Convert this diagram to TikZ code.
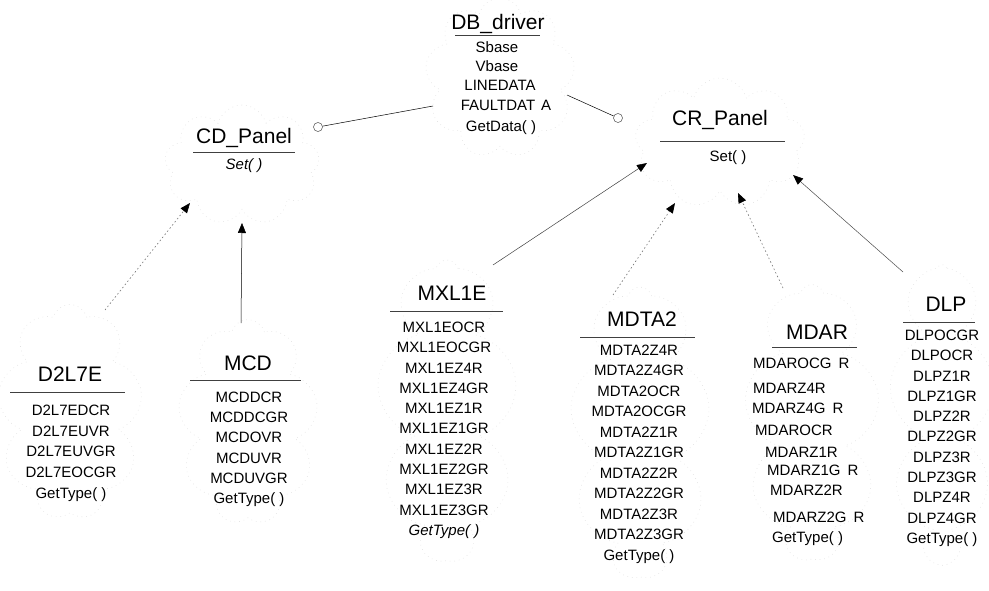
\documentclass[tikz,border=0pt]{standalone}
\usepackage{fontspec}
\setmainfont{Liberation Sans}
\usetikzlibrary{arrows.meta,shapes.symbols}
\begin{document}
\begin{tikzpicture}[x=1pt,y=-1pt,
  ttl/.style={font=\fontsize{21}{24}\selectfont, inner sep=0pt, anchor=base},
  itm/.style={font=\fontsize{15}{18}\selectfont, inner sep=0pt, anchor=base},
  itmw/.style={itm, anchor=base west},
  uline/.style={draw=black!75, line width=0.9pt},
  conn/.style={draw=black, line width=0.5pt},
  faint/.style={draw=black!55, line width=0.6pt, dash pattern=on 1.5pt off 2.5pt},
  tip/.style={-{Triangle[length=10pt,width=8pt,color=black]}},
  cloudy/.style={cloud, cloud puffs=9, cloud ignores aspect, draw=black!14, dash pattern=on 0.6pt off 4pt, line width=0.5pt, inner sep=0pt},
  lolli/.style={circle, draw=black!70, line width=0.5pt, minimum size=9pt, inner sep=0pt, fill=white}]
\useasboundingbox[fill=white] (0,0) rectangle (989,591);

% faint class clouds
\node[cloudy, minimum width=150pt, minimum height=160pt] (dbc) at (500,78) {};
\node[cloudy, minimum width=155pt, minimum height=120pt] (cdc) at (242,165) {};
\node[cloudy, minimum width=170pt, minimum height=130pt] (crc) at (720,143) {};
\node[cloudy, minimum width=145pt, minimum height=215pt] (d2c) at (70,412) {};
\node[cloudy, minimum width=140pt, minimum height=205pt] (mcdc) at (248,422) {};
\node[cloudy, minimum width=140pt, minimum height=300pt] (mxlc) at (447,410) {};
\node[cloudy, minimum width=140pt, minimum height=290pt] (mdtc) at (640,432) {};
\node[cloudy, minimum width=135pt, minimum height=275pt] (mdarc) at (812,422) {};
\node[cloudy, minimum width=105pt, minimum height=295pt] (dlpc) at (942,412) {};

% DB_driver
\node[ttl] (db) at (498,30) {DB\_driver};
\draw[uline] (455,35) -- (540,35);
\node[itm] (db0) at (497,52.4) {Sbase};
\node[itm] (db1) at (497,71.4) {Vbase};
\node[itm] (db2) at (500,90.4) {LINEDATA};
\node[itm] (db3) at (506,110.4) {FAULTDAT\hspace{6pt}A};
\node[itm] (db4) at (501,131.4) {GetData( )};

% CD_Panel
\node[ttl] (cd) at (244,143.5) {CD\_Panel};
\draw[uline] (193,152) -- (295,152);
\node[itm] (cd0) at (244,169.4) {\itshape Set( )};

% CR_Panel
\node[ttl] (cr) at (720,125.5) {CR\_Panel};
\draw[uline] (660,141) -- (785,141);
\node[itm] (cr0) at (728,161.4) {Set( )};

% D2L7E
\node[ttl] (d2) at (70,381.5) {D2L7E};
\draw[uline] (10,392) -- (125,392);
\foreach \t [count=\i from 0] in {D2L7EDCR,D2L7EUVR,D2L7EUVGR,D2L7EOCGR,{GetType( )}}
  \node[itm] (d2i\i) at (71,415.4+20.7*\i) {\t};

% MCD
\node[ttl] (mcd) at (248,370) {MCD};
\draw[uline] (190,380) -- (301,380);
\foreach \t [count=\i from 0] in {MCDDCR,MCDDCGR,MCDOVR,MCDUVR,MCDUVGR,{GetType( )}}
  \node[itm] (mcdi\i) at (249,402.4+20.2*\i) {\t};

% MXL1E
\node[ttl] (mxl) at (452,300.5) {MXL1E};
\draw[uline] (390,311) -- (503,311);
\foreach \t [count=\i from 0] in {MXL1EOCR,MXL1EOCGR,MXL1EZ4R,MXL1EZ4GR,MXL1EZ1R,MXL1EZ1GR,MXL1EZ2R,MXL1EZ2GR,MXL1EZ3R,MXL1EZ3GR,{\itshape GetType( )}}
  \node[itm] (mxli\i) at (444,332.4+20.3*\i) {\t};

% MDTA2
\node[ttl] (mdt) at (642,326.5) {MDTA2};
\draw[uline] (580,337) -- (695,337);
\foreach \t [count=\i from 0] in {MDTA2Z4R,MDTA2Z4GR,MDTA2OCR,MDTA2OCGR,MDTA2Z1R,MDTA2Z1GR,MDTA2Z2R,MDTA2Z2GR,MDTA2Z3R,MDTA2Z3GR,{GetType( )}}
  \node[itm] (mdti\i) at (639,355.4+20.5*\i) {\t};

% MDAR
\node[ttl] (mdar) at (817,339.5) {MDAR};
\draw[uline] (772,347) -- (857,347);
\foreach \x/\y/\t [count=\i from 0] in {753/363/MDAROCG\hspace{7pt}R, 753/388/MDARZ4R, 752/408/MDARZ4G\hspace{7pt}R, 755/430/MDAROCR, 765/452/MDARZ1R, 767/470/MDARZ1G\hspace{7pt}R, 770/490/MDARZ2R, 773/517/MDARZ2G\hspace{7pt}R, 772/537/{GetType( )}}
  \node[itmw] (mdari\i) at (\x,\y+5.4) {\t};

% DLP
\node[ttl] (dlp) at (946,311.5) {DLP};
\draw[uline] (903,322) -- (975,322);
\foreach \t [count=\i from 0] in {DLPOCGR,DLPOCR,DLPZ1R,DLPZ1GR,DLPZ2R,DLPZ2GR,DLPZ3R,DLPZ3GR,DLPZ4R,DLPZ4GR,{GetType( )}}
  \node[itm] (dlpi\i) at (942,340.4+20.3*\i) {\t};

% associations with lollipop ends
\coordinate (dbL) at (433,106);
\coordinate (dbR) at (567,95);
\node[lolli] (cdO) at (318,127) {};
\node[lolli] (crO) at (618,118) {};
\draw[conn] (dbL) -- (cdO);
\draw[conn] (dbR) -- (crO);

% generalisations to CR_Panel
\coordinate (mxlT) at (493,265);
\coordinate (crA) at (647,163);
\draw[conn, draw=black!75, tip] (mxlT) -- (crA);
\coordinate (mdtT) at (613,295);
\coordinate (crB) at (675,203);
\draw[faint, tip] (mdtT) -- (crB);
\coordinate (mdarT) at (783,288);
\coordinate (crC) at (738,193);
\draw[faint, tip] (mdarT) -- (crC);
\coordinate (dlpT) at (903,272);
\coordinate (crD) at (793,175);
\draw[conn, draw=black!70, tip] (dlpT) -- (crD);

% generalisations to CD_Panel
\coordinate (d2T) at (105,310);
\coordinate (cdA) at (190,203);
\draw[faint, tip] (d2T) -- (cdA);
\coordinate (mcdT) at (241,323);
\coordinate (cdB) at (242,223);
\draw[conn, tip] (mcdT) -- (cdB);
\end{tikzpicture}
\end{document}
